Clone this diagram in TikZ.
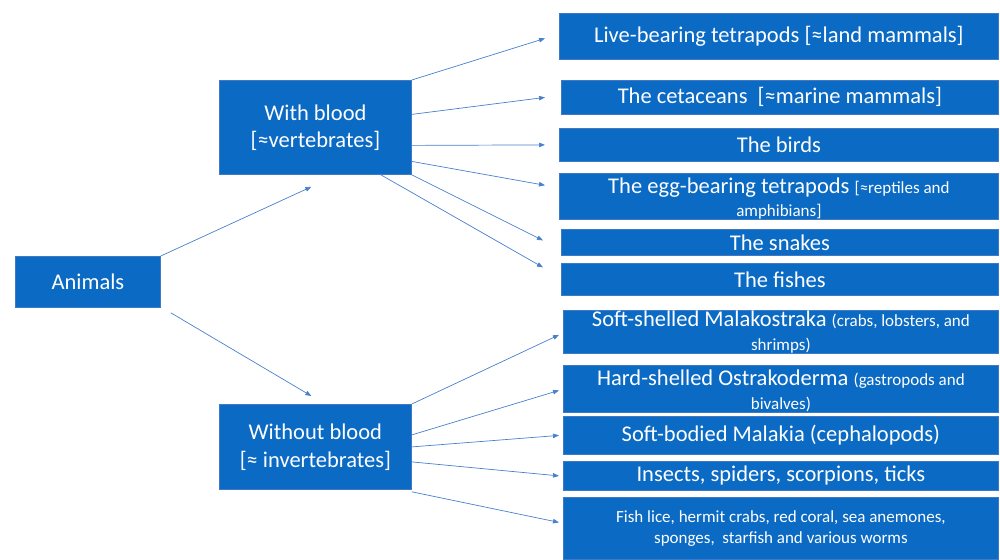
\documentclass[tikz,border=0pt]{standalone}
\usepackage{fontspec}
\setmainfont{Carlito}
\usetikzlibrary{arrows.meta}
\definecolor{boxblue}{RGB}{10,106,196}
\definecolor{boxline}{RGB}{64,122,196}
\definecolor{arrowblue}{RGB}{72,128,204}
\newcommand{\boxfont}{\fontsize{22.5}{27}\selectfont}
\newcommand{\notefont}{\fontsize{17}{24}\selectfont}

\begin{document}
\begin{tikzpicture}[x=1pt,y=-1pt,
    box/.style={draw=boxline,line width=0.8pt,fill=boxblue,text=white,
      inner sep=0pt,anchor=north west,align=center,font=\boxfont},
    arr/.style={draw=arrowblue,line width=0.7pt,-{Triangle[length=6pt,width=4.5pt]}}]
      \useasboundingbox (0,0) rectangle (1000,559);

      % Animals
      \node[box,minimum width=145,minimum height=51] (an) at (15,256) {Animals};

      % With blood / Without blood
      \node[box,minimum width=192,minimum height=94] (wb) at (219,80) {With blood\\{}[≈vertebrates]};
      \node[box,minimum width=192,minimum height=85,font=\fontsize{22.5}{28}\selectfont] (wob) at (219,404) {Without blood\\{}[≈ invertebrates]};

      % Vertebrates
      \node[box,minimum width=439,minimum height=46] (b1) at (559,13) {Live-bearing tetrapods [≈land mammals]};
      \node[box,minimum width=437,minimum height=34] (b2) at (561,80) {The cetaceans~ [≈marine mammals]};
      \node[box,minimum width=439,minimum height=33] (b3) at (559,128) {The birds};
      \node[box,minimum width=439,minimum height=45,font=\fontsize{22.5}{23}\selectfont] (b4) at (559,173) {\rule{0pt}{20pt}The egg-bearing tetrapods {\notefont[≈reptiles and}\\{\notefont amphibians]}};
      \node[box,minimum width=437,minimum height=26] (b5) at (561,229) {The snakes};
      \node[box,minimum width=437,minimum height=32] (b6) at (561,263) {The fishes};

      % Invertebrates
      \node[box,minimum width=435,minimum height=43,font=\fontsize{22.5}{24}\selectfont] (b7) at (563,310) {\rule{0pt}{15pt}Soft-shelled Malakostraka {\notefont (crabs, lobsters, and}\\{\notefont shrimps)}};
      \node[box,minimum width=435,minimum height=47,font=\fontsize{22.5}{24}\selectfont] (b8) at (563,365) {\rule{0pt}{19pt}Hard-shelled Ostrakoderma {\notefont (gastropods and}\\{\notefont bivalves)}};
      \node[box,minimum width=435,minimum height=38] (b9) at (563,416) {Soft-bodied Malakia (cephalopods)};
      \node[box,minimum width=435,minimum height=29] (b10) at (563,461) {Insects, spiders, scorpions, ticks};
      \node[box,minimum width=435,minimum height=62,font=\fontsize{17}{21}\selectfont] (b11) at (563,497) {Fish lice, hermit crabs, red coral, sea anemones,\\sponges,~ starfish and various worms};

      % Arrows from Animals
      \draw[arr] (an.north east) -- ([xshift=-4pt,yshift=-12pt]wb.south);
      \draw[arr] ([xshift=10pt,yshift=-5pt]an.south east) -- ([xshift=-4pt,yshift=8pt]wob.north);

      % Arrows from With blood
      \draw[arr] (wb.north east) -- ([xshift=-14pt,yshift=-2pt]b1.west);
      \draw[arr] ([yshift=13pt]wb.east) -- ([xshift=-16pt]b2.west);
      \draw[arr] ([yshift=-18pt]wb.east) -- ([xshift=-14pt]b3.west);
      \draw[arr] ([yshift=-34pt]wb.east) -- ([xshift=-14pt,yshift=11pt]b4.west);
      \draw[arr] (wb.south east) -- ([xshift=-18pt,yshift=2pt]b5.west);
      \draw[arr] ([xshift=-31pt]wb.south east) -- ([xshift=-18pt,yshift=12pt]b6.west);

      % Arrows from Without blood
      \draw[arr] (wob.north east) -- ([xshift=-4pt,yshift=-3pt]b7.west);
      \draw[arr] ([yshift=12pt]wob.east) -- ([xshift=-4pt,yshift=-1.5pt]b8.west);
      \draw[arr] (wob.east) -- ([xshift=-4pt]b9.west);
      \draw[arr] ([yshift=-15pt]wob.east) -- ([xshift=-4pt]b10.west);
      \draw[arr] ([yshift=-2pt]wob.south east) -- ([xshift=-4pt,yshift=6pt]b11.west);
    \end{tikzpicture}
\end{document}
